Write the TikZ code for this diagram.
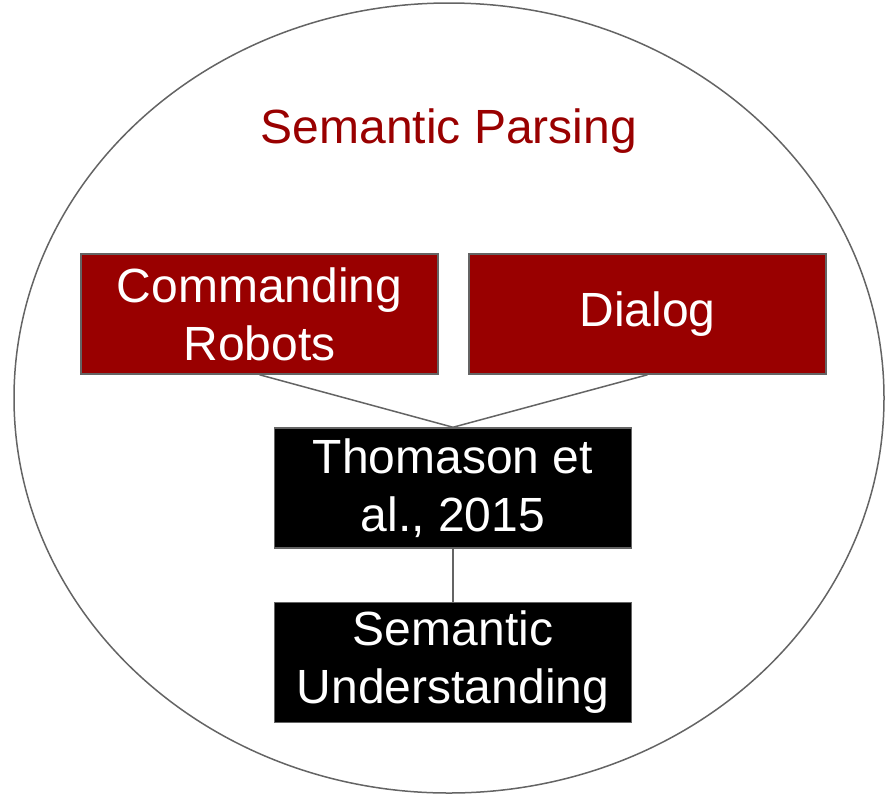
\documentclass[tikz,border=0pt]{standalone}
\usepackage{fontspec}
\setmainfont{Liberation Sans}
\usetikzlibrary{positioning}
\definecolor{parsered}{RGB}{153, 0, 0}
\definecolor{edgegray}{RGB}{100, 100, 100}

\begin{document}
\begin{tikzpicture}[x=1pt, y=-1pt,
				box/.style={draw=edgegray, line width=1.5pt, minimum width=357pt, minimum height=120pt, inner sep=0pt, align=center, text=white, font=\fontsize{48}{58}\selectfont},
				redbox/.style={box, fill=parsered},
				blackbox/.style={box, fill=black},
				link/.style={draw=edgegray, line width=1.5pt}]
				% Rahmen
				\useasboundingbox (0,0) rectangle (885,796);
				% Ellipse
				\draw[edgegray, line width=1.5pt] (449,398) ellipse [x radius=435pt, y radius=395pt];
				% Titel
				\node[text=parsered, font=\fontsize{48}{58}\selectfont] (title) at (449,131) {Semantic Parsing};
				% Kaesten
				\node[redbox] (robots) at (259.5,314) {Commanding\\Robots};
				\node[redbox] (dialog) at (647.5,314) {Dialog};
				\node[blackbox] (thomason) at (453,488) {Thomason et\\al., 2015};
				\node[blackbox] (understanding) at (453,662.5) {Semantic\\Understanding};
				% Verbindungen
				\draw[link] (robots.south) -- (thomason.north);
				\draw[link] (dialog.south) -- (thomason.north);
				\draw[link] (thomason.south) -- (understanding.north);
			\end{tikzpicture}
\end{document}
